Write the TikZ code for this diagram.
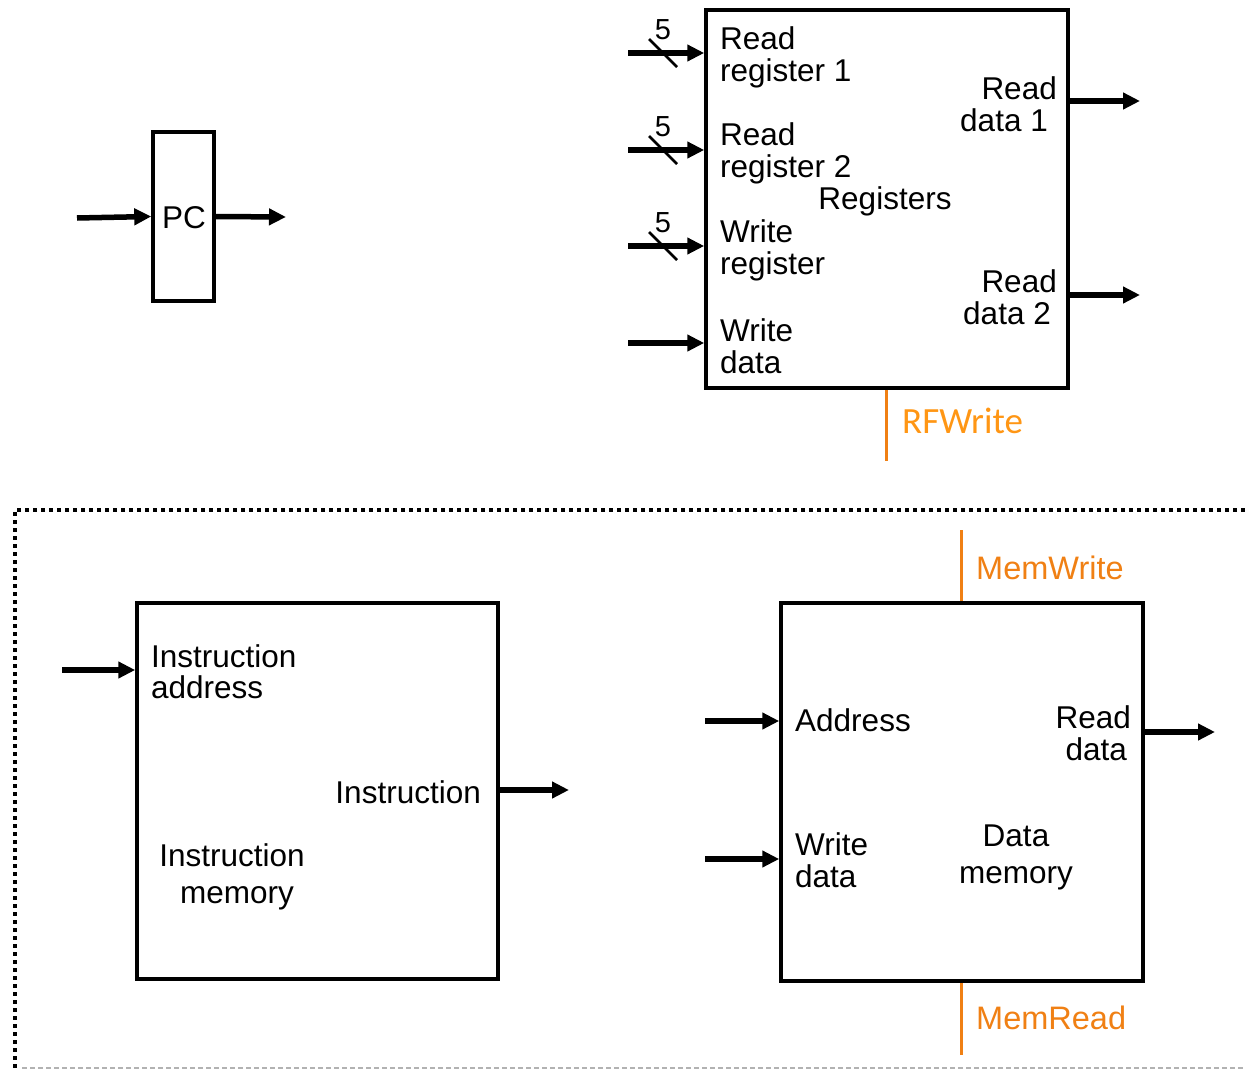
\documentclass[tikz,border=0pt]{standalone}
\usepackage{fontspec}
\setmainfont{Liberation Sans}
\newfontfamily\calfont{Carlito}
\usetikzlibrary{arrows.meta}
\definecolor{ctlorange}{RGB}{240,128,20}
\definecolor{rforange}{RGB}{255,150,20}
\begin{document}
\begin{tikzpicture}[x=1pt,y=-1pt,
  box/.style={draw,line width=3.5pt,inner sep=0pt,minimum width=#1},
  arr/.style={line width=5.5pt,-{Triangle[length=17pt,width=16pt]}},
  lbl/.style={font=\fontsize{31.5}{32}\selectfont,inner sep=0pt,align=left},
  lblr/.style={font=\fontsize{31.5}{32}\selectfont,inner sep=0pt,align=right},
  lblc/.style={font=\fontsize{31.5}{37}\selectfont,inner sep=0pt,align=center},
  ctl/.style={draw=ctlorange,line width=3pt},
  ctltxt/.style={text=ctlorange,font=\fontsize{32.5}{36}\selectfont,inner sep=0pt,anchor=west},
  slash/.style={line width=2.5pt},
  num/.style={font=\fontsize{29}{30}\selectfont,inner sep=0pt}]
\useasboundingbox (0,0) rectangle (1245,1070);

% dotted separator frame
\coordinate (ftl) at (15,510);
\coordinate (ftr) at (1245,510);
\coordinate (fbl) at (15,1068);
\coordinate (fbr) at (1245,1068);
\draw[line width=4pt,dash pattern=on 4pt off 4pt] (ftr) -- (ftl) -- (fbl);
\draw[gray!60,line width=1.5pt,dash pattern=on 5pt off 3pt] (22,1068) -- (fbr);

% PC
\node[box=61pt,minimum height=169pt] (pc) at (183.5,216.5) {};
\node[font=\fontsize{31.5}{32}\selectfont,inner sep=0pt] (pct) at (184,218) {PC};
\coordinate (pcin) at (77,218);
\coordinate (pcout) at (286,217);
\draw[arr] (pcin) -- (pc.west);
\draw[arr] (pc.east) -- (pcout);

% Register file
\node[box=362pt,minimum height=378pt] (rf) at (887,199) {};
\node[lbl,anchor=west] (rr1) at (720,57) {Read\\register 1};
\node[lbl,anchor=west] (rr2) at (720,153) {Read\\register 2};
\node[lbl,anchor=west] (wr) at (720,250) {Write\\register};
\node[lbl,anchor=west] (wd) at (720,346) {Write\\data};
\node[lbl,anchor=center] (rft) at (885,201) {Registers};
\node[lblr,anchor=east] (rd1) at (1057,104) {Read\\data 1\hspace*{9pt}};
\node[lblr,anchor=east] (rd2) at (1057,297) {Read\\data 2\hspace*{6pt}};
\foreach \n/\y in {a/53,b/150,c/246}{
  \coordinate (in\n) at (628,\y);
  \draw[arr] (in\n) -- (in\n -| rf.west);
  \coordinate (s1\n) at (649,\y-14);
  \coordinate (s2\n) at (677,\y+14);
  \draw[slash] (s1\n) -- (s2\n);
  \node[num] (n\n) at (663,\y-23) {5};
}
\coordinate (ind) at (628,343);
\draw[arr] (ind) -- (ind -| rf.west);
\coordinate (o1) at (1140,101);
\coordinate (o2) at (1140,295);
\draw[arr] (o1 -| rf.east) -- (o1);
\draw[arr] (o2 -| rf.east) -- (o2);
\coordinate (rfw) at (886,461);
\draw[ctl] (rf.south -| rfw) -- (rfw);
\node[text=rforange,font=\calfont\fontsize{37}{40}\selectfont,inner sep=0pt,anchor=west] (rfwt) at (902,421) {RFWrite};

% Instruction memory
\node[box=361pt,minimum height=376pt] (im) at (317.5,791) {};
\coordinate (imin) at (62,670);
\draw[arr] (imin) -- (imin -| im.west);
\node[lbl,anchor=west,font=\fontsize{31.5}{31}\selectfont] (ia) at (151,672) {Instruction\\address};
\node[lbl,anchor=east] (it) at (481,792) {Instruction};
\coordinate (imout) at (569,790);
\draw[arr] (imout -| im.east) -- (imout);
\node[lblc] (imt) at (232,877) {Instruction\\\hspace*{10pt}memory};

% Data memory
\node[box=362pt,minimum height=378pt] (dm) at (962,792) {};
\coordinate (mw) at (961,530);
\draw[ctl] (mw) -- (mw |- dm.north);
\node[ctltxt] (mwt) at (976,568) {MemWrite};
\coordinate (mr) at (961,1055);
\draw[ctl] (dm.south -| mr) -- (mr);
\node[ctltxt] (mrt) at (976,1018) {MemRead};
\coordinate (dma) at (705,721);
\draw[arr] (dma) -- (dma -| dm.west);
\coordinate (dmw) at (705,859);
\draw[arr] (dmw) -- (dmw -| dm.west);
\node[lbl,anchor=west] (addr) at (795,720) {Address};
\node[lbl,anchor=west] (dwd) at (795,860) {Write\\data};
\node[lblr,anchor=east] (drd) at (1131,733) {Read\\data\hspace*{4pt}};
\coordinate (dmo) at (1215,732);
\draw[arr] (dmo -| dm.east) -- (dmo);
\node[lblc] (dmt) at (1016,857) {Data\\memory};
\end{tikzpicture}
\end{document}
